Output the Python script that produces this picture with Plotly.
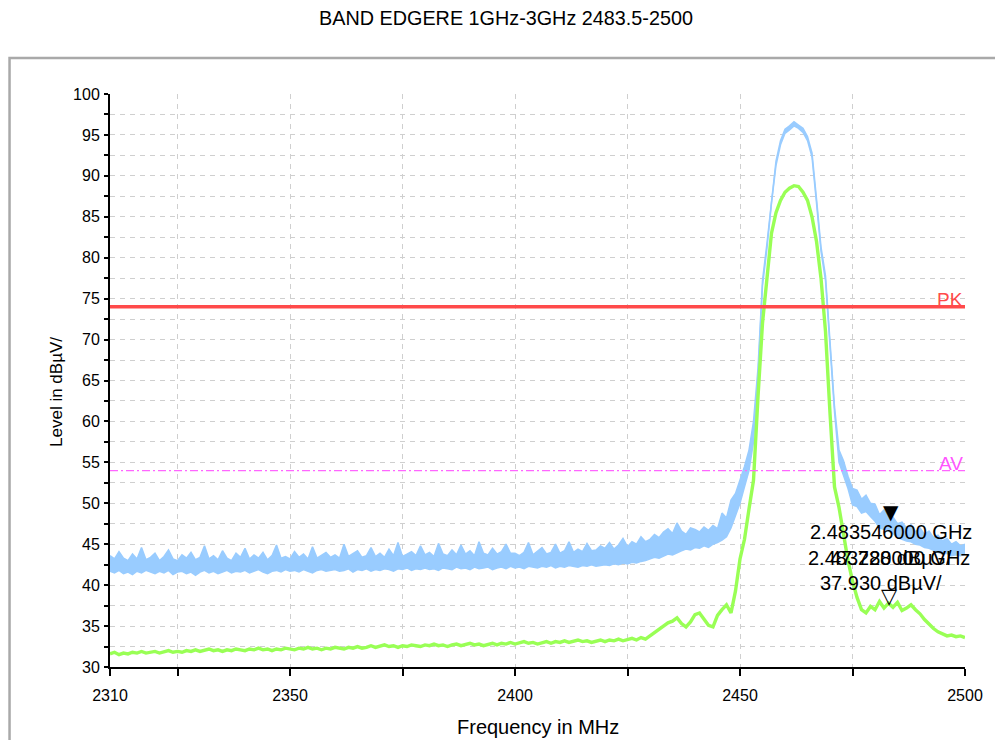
import plotly.graph_objects as go

# ---------------- data ----------------
freq_mhz = list(range(2310, 2501))  # 1 MHz sweep points, 2310 ... 2500

# peak detector trace (blue), drawn as the band between its lower and upper envelope
peak_upper = [
    43.6, 43.2, 44.1, 43.3, 43.0, 43.8, 43.2, 44.6, 43.1, 43.4,
    43.9, 43.0, 43.5, 44.3, 43.2, 43.0, 43.7, 43.3, 44.0, 43.1,
    43.4, 44.8, 43.2, 43.6, 43.1, 44.2, 43.3, 43.0, 43.9, 43.4,
    44.5, 43.2, 43.7, 43.3, 44.0, 43.1, 43.6, 44.9, 43.3, 43.5,
    43.2, 44.1, 43.4, 43.8, 43.2, 44.7, 43.3, 43.6, 44.0, 43.4,
    43.7, 43.3, 45.0, 43.5, 43.8, 44.2, 43.4, 43.6, 44.6, 43.5,
    43.9, 43.4, 44.4, 43.6, 45.2, 43.5, 43.8, 44.1, 43.6, 44.8,
    43.7, 44.0, 43.5, 45.1, 43.8, 43.6, 44.3, 43.7, 44.9, 43.8,
    44.2, 43.6, 45.3, 43.9, 43.7, 44.5, 43.8, 44.1, 45.0, 43.9,
    43.9, 43.6, 44.0, 45.2, 43.7, 44.1, 44.6, 43.8, 44.0, 45.0,
    43.9, 44.2, 45.3, 44.0, 44.4, 44.1, 45.1, 44.2, 44.3, 44.8,
    44.5, 45.2, 44.4, 44.9, 45.7, 44.7, 45.3, 45.0, 45.9, 45.3,
    45.6, 46.2, 45.8, 46.5, 46.9, 46.3, 47.6, 46.6, 46.2, 47.0,
    46.8, 46.5, 47.1, 46.7, 47.3, 46.9, 48.8, 48.2, 50.4, 51.2,
    52.8, 54.5, 56.5, 60.0, 66.5, 77.2, 81.8, 87.2, 91.8, 94.3,
    95.7, 96.1, 96.6, 96.2, 95.8, 94.8, 92.8, 87.2, 81.3, 77.8,
    70.2, 61.8, 56.5, 55.2, 53.3, 51.8, 51.6, 50.5, 51.0, 50.0,
    49.9, 48.6, 49.2, 48.4, 48.3, 47.5, 47.7, 47.0, 47.4, 46.5,
    47.0, 46.2, 46.6, 45.8, 46.1, 45.4, 45.7, 45.0, 45.3, 44.8,
    45.0,
]
peak_lower = [
    41.7, 41.5, 41.8, 41.4, 41.6, 41.3, 41.7, 41.5, 41.8, 41.6,
    41.4, 41.7, 41.5, 41.8, 41.3, 41.6, 41.7, 41.4, 41.6, 41.2,
    41.6, 41.8, 41.5, 41.7, 41.4, 41.6, 41.8, 41.5, 41.7, 41.6,
    41.8, 41.5, 41.7, 41.9, 41.6, 41.4, 41.7, 41.8, 41.6, 41.9,
    41.7, 41.8, 41.6, 41.9, 41.7, 41.5, 41.8, 41.9, 41.7, 41.8,
    41.9, 41.7, 41.8, 42.0, 41.6, 41.9, 41.8, 42.0, 41.7, 41.9,
    41.8, 42.0, 41.9, 41.7, 42.0, 41.9, 42.1, 41.8, 42.0, 41.9,
    42.1, 41.9, 42.0, 41.8, 42.1, 42.0, 41.9, 42.2, 42.0, 42.1,
    41.9, 42.2, 42.0, 42.1, 42.2, 41.9, 42.1, 42.2, 42.0, 42.3,
    42.1, 42.2, 42.0, 42.3, 42.2, 42.1, 42.3, 42.2, 42.4, 42.1,
    42.3, 42.2, 42.4, 42.3, 42.2, 42.4, 42.3, 42.5, 42.3, 42.4,
    42.5, 42.4, 42.6, 42.5, 42.7, 42.6, 42.8, 42.7, 42.9, 43.0,
    43.2, 43.4, 43.3, 43.6, 43.8, 43.7, 44.0, 44.2, 44.4, 44.3,
    44.6, 44.5, 44.8, 44.6, 45.0, 45.2, 45.5, 45.9, 47.0, 48.5,
    50.0, 52.0, 54.0, 57.5, 65.5, 76.6, 81.2, 86.7, 91.3, 93.8,
    95.2, 95.6, 96.1, 95.8, 95.3, 94.3, 92.3, 86.7, 80.8, 77.2,
    69.7, 61.2, 55.0, 53.5, 51.8, 49.8, 49.6, 48.8, 49.0, 48.4,
    47.8, 47.0, 46.8, 46.6, 46.3, 45.8, 45.6, 45.4, 45.3, 45.0,
    44.9, 44.6, 44.5, 44.2, 44.0, 43.8, 43.9, 43.6, 43.7, 43.6,
    43.8,
]

# average detector trace (green)
avg_dbuv = [
    31.6, 31.8, 31.5, 31.7, 31.6, 31.8, 31.7, 31.9, 31.7, 31.8,
    31.9, 31.7, 31.8, 32.0, 31.8, 31.9, 31.8, 32.0, 31.9, 32.1,
    31.9, 32.0, 32.2, 32.0, 32.1, 31.9, 32.1, 32.0, 32.2, 32.1,
    32.0, 32.2, 32.1, 32.3, 32.1, 32.2, 32.0, 32.2, 32.1, 32.3,
    32.2, 32.1, 32.3, 32.2, 32.4, 32.2, 32.3, 32.1, 32.3, 32.2,
    32.4, 32.3, 32.2, 32.4, 32.3, 32.5, 32.3, 32.4, 32.6, 32.4,
    32.5, 32.7, 32.5, 32.6, 32.4, 32.6, 32.5, 32.7, 32.6, 32.5,
    32.7, 32.6, 32.8, 32.6, 32.7, 32.5, 32.7, 32.8, 32.6, 32.7,
    32.9, 32.7, 32.8, 32.6, 32.8, 32.9, 32.7, 32.9, 32.8, 33.0,
    32.8, 32.9, 33.1, 32.9, 33.0, 32.8, 33.0, 33.1, 32.9, 33.1,
    33.0, 33.2, 33.0, 33.1, 33.3, 33.1, 33.2, 33.0, 33.2, 33.3,
    33.1, 33.3, 33.2, 33.4, 33.2, 33.3, 33.5, 33.3, 33.6, 33.4,
    33.8, 34.3, 34.6, 35.0, 35.4, 35.6, 36.0, 35.3, 34.9, 35.5,
    36.4, 36.6, 35.8, 35.1, 34.9, 36.3, 37.0, 37.6, 36.6, 39.3,
    43.2, 45.6, 49.3, 52.8, 63.0, 72.0, 77.5, 83.0, 85.5, 87.0,
    88.0, 88.5, 88.8, 88.7, 88.0, 87.0, 85.0, 82.0, 77.5, 71.0,
    61.0, 52.0, 49.5, 46.0, 43.0, 40.5, 38.5, 37.0, 36.6, 37.4,
    37.0, 38.0, 37.2, 37.8, 37.3, 37.9, 36.9, 37.2, 37.6, 37.0,
    36.5, 35.8, 35.2, 34.7, 34.3, 34.0, 33.8, 33.9, 33.7, 33.8,
    33.6,
]

pk_limit = 74.0
av_limit = 54.0

marker1_freq_mhz = 2483.546
marker1_level = 47.728
marker2_freq_mhz = 2483.280
marker2_level = 37.930

x_tick_vals = [2310, 2325, 2350, 2375, 2400, 2425, 2450, 2475, 2500]
x_tick_text = ["2310", "", "2350", "", "2400", "", "2450", "", "2500"]
y_tick_vals = [30, 32.5, 35, 37.5, 40, 42.5, 45, 47.5, 50, 52.5, 55, 57.5, 60,
               62.5, 65, 67.5, 70, 72.5, 75, 77.5, 80, 82.5, 85, 87.5, 90,
               92.5, 95, 97.5, 100]
y_tick_text = [str(int(v)) if v % 5 == 0 else "" for v in y_tick_vals]

# ---------------- figure ----------------
FONT = "Liberation Sans, Arial, sans-serif"
BLUE = "#99ccff"
GREEN = "#99ff55"
fig = go.Figure()

fig.add_trace(go.Scatter(x=freq_mhz, y=peak_lower, mode="lines",
                         line=dict(color=BLUE, width=1.5),
                         showlegend=False, hoverinfo="skip"))
fig.add_trace(go.Scatter(x=freq_mhz, y=peak_upper, mode="lines",
                         line=dict(color=BLUE, width=1.5),
                         fill="tonexty", fillcolor=BLUE,
                         showlegend=False, hoverinfo="skip"))
fig.add_trace(go.Scatter(x=freq_mhz, y=avg_dbuv, mode="lines",
                         line=dict(color=GREEN, width=3.4),
                         showlegend=False, hoverinfo="skip"))

# limit lines
fig.add_shape(type="line", xref="x", yref="y", x0=2310, x1=2500,
              y0=pk_limit, y1=pk_limit,
              line=dict(color="#ff4a4a", width=3.5), layer="above")
fig.add_shape(type="line", xref="x", yref="y", x0=2310, x1=2500,
              y0=av_limit, y1=av_limit,
              line=dict(color="#ff66ff", width=1.2, dash="8px,3px,2px,3px"),
              layer="above")

# outer frame
fig.add_shape(type="rect", xref="paper", yref="paper",
              x0=-0.1175, x1=1.2, y0=-0.3, y1=1.0628,
              line=dict(color="#a9a9a9", width=2.5), layer="below")

annots = [
    dict(x=2500, y=pk_limit, text="PK", xanchor="right", yanchor="bottom",
         yshift=-5, font=dict(size=19, color="#ff4a4a", family=FONT)),
    dict(x=2500, y=av_limit, text="AV", xanchor="right", yanchor="bottom",
         yshift=-5, font=dict(size=19, color="#ff55ff", family=FONT)),
    # marker symbols
    dict(x=marker1_freq_mhz, y=marker1_level, text="▼", xanchor="center",
         yanchor="bottom", yshift=-4,
         font=dict(size=20, color="black", family="DejaVu Sans")),
    dict(x=marker2_freq_mhz, y=marker2_level, text="▽", xanchor="center",
         yanchor="bottom", yshift=-8,
         font=dict(size=21, color="black", family="DejaVu Sans")),
    # marker read-outs
    dict(x=2483.56, y=46.49, text="2.483546000 GHz", xanchor="center",
         yanchor="middle", font=dict(size=20, color="black", family=FONT)),
    dict(x=2483.6, y=43.32, text="47.728 dBµV/", xanchor="center",
         yanchor="middle", font=dict(size=20, color="black", family=FONT)),
    dict(x=2483.2, y=43.32, text="2.483280000 GHz", xanchor="center",
         yanchor="middle", font=dict(size=20, color="black", family=FONT)),
    dict(x=2481.3, y=40.26, text="37.930 dBµV/", xanchor="center",
         yanchor="middle", font=dict(size=20, color="black", family=FONT)),
    # axis titles
    dict(xref="paper", yref="paper", x=0.5, y=-0.1047, text="Frequency in MHz",
         xanchor="center", yanchor="middle",
         font=dict(size=20, color="black", family=FONT)),
    dict(xref="paper", yref="paper", x=-0.062, y=0.48, text="Level in dBµV/",
         textangle=-90, xanchor="center", yanchor="middle",
         font=dict(size=17, color="black", family=FONT)),
]
for a in annots:
    a.setdefault("showarrow", False)
    fig.add_annotation(**a)

axis_common = dict(showline=True, linecolor="black", linewidth=2,
                   tickcolor="black", tickwidth=2, zeroline=False,
                   tickfont=dict(size=16, color="black", family=FONT),
                   showgrid=True, gridcolor="#cfcfcf", gridwidth=1,
                   griddash="5px,5px")

# the page body has an 8px margin, so the figure is 8px smaller than the window
fig.update_layout(
    width=995, height=732,
    margin=dict(l=102, r=38, t=86, b=73),
    paper_bgcolor="white", plot_bgcolor="white",
    font=dict(family=FONT, color="black"),
    title=dict(text="BAND EDGERE 1GHz-3GHz 2483.5-2500", x=0.5005, y=0.9863,
               xref="container", yref="container",
               xanchor="center", yanchor="middle",
               font=dict(size=19.8, color="black", family=FONT)),
    xaxis=dict(range=[2310, 2500], tickmode="array", tickvals=x_tick_vals,
               ticktext=x_tick_text, ticks="outside", ticklen=7,
               ticklabelstandoff=6, **axis_common),
    yaxis=dict(range=[30, 100], tickmode="array", tickvals=y_tick_vals,
               ticktext=y_tick_text, ticks="outside", ticklen=4,
               ticklabelstandoff=1, **axis_common),
    xaxis2=dict(range=[2310, 2500], overlaying="x", anchor="y", side="bottom",
                tickmode="array", tickvals=x_tick_vals, ticks="inside",
                ticklen=4, tickwidth=2, tickcolor="black",
                showticklabels=False, showgrid=False, showline=False,
                zeroline=False),
    yaxis2=dict(range=[30, 100], overlaying="y", anchor="x", side="left",
                tickmode="array", tickvals=y_tick_vals, ticks="inside",
                ticklen=6, tickwidth=2, tickcolor="black",
                showticklabels=False, showgrid=False, showline=False,
                zeroline=False),
)

fig.write_html("out.html")
